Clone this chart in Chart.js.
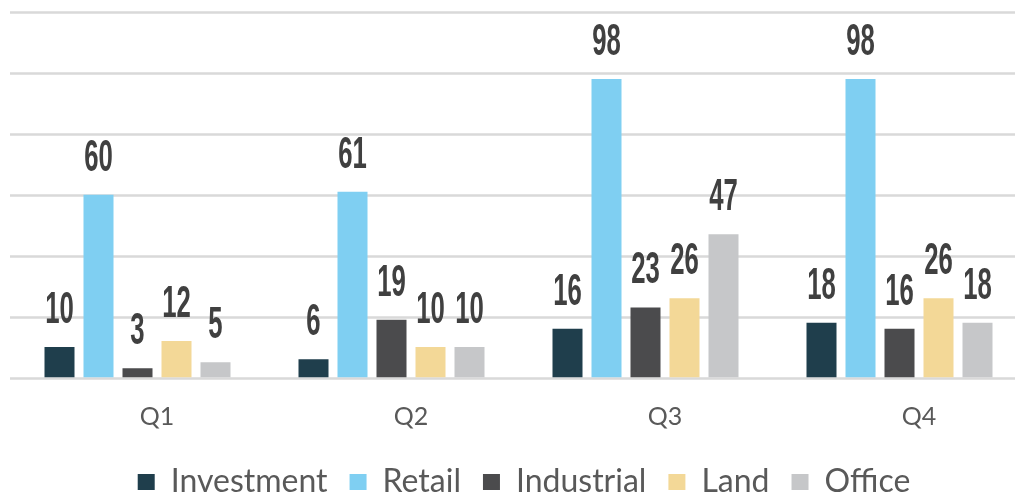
<!DOCTYPE html>
<html>
<head>
<meta charset="utf-8">
<script src="https://cdn.jsdelivr.net/npm/chart.js@4"></script>
<style>
  html, body { margin: 0; padding: 0; background: #fff; overflow: hidden; }
  #wrap { width: 1060px; height: 498px; }
</style>
</head>
<body>
<div id="wrap"><canvas id="chart"></canvas></div>
<script>
// Quarterly volumes by sector
const quarters   = ["Q1", "Q2", "Q3", "Q4"];
const investment = [10, 6, 16, 18];
const retail     = [60, 61, 98, 98];
const industrial = [3, 19, 23, 16];
const land       = [12, 10, 26, 26];
const office     = [5, 10, 47, 18];
const yTicks     = [0, 20, 40, 60, 80, 100, 120];

const AXIS_BOTTOM = 377.5;
const LEGEND_TEXT_Y = 482;
const LEGEND_PAD = 22;
const LEGEND_NUDGE_X = -14;

// horizontal gridlines, running further left than the plot like the original
const gridPlugin = {
  id: "grid",
  beforeDatasetsDraw(chart) {
    const { ctx } = chart;
    const y = chart.scales.y;
    ctx.save();
    ctx.strokeStyle = "#d9d9d9";
    ctx.lineWidth = 2.5;
    yTicks.forEach(v => {
      const py = Math.round(y.getPixelForValue(v)) + 0.5;
      ctx.beginPath();
      ctx.moveTo(10, py);
      ctx.lineTo(chart.width, py);
      ctx.stroke();
    });
    ctx.restore();
  }
};

// condensed bold value labels above each bar
const labelPlugin = {
  id: "values",
  afterDatasetsDraw(chart) {
    const { ctx } = chart;
    ctx.save();
    ctx.font = "bold 44px 'Liberation Sans Narrow', 'Liberation Sans', sans-serif";
    const sx = 14.3 / ctx.measureText("0").width;
    ctx.fillStyle = "#404040";
    ctx.textAlign = "center";
    ctx.textBaseline = "alphabetic";
    chart.data.datasets.forEach((ds, i) => {
      if (!ds.label) return;
      chart.getDatasetMeta(i).data.forEach((bar, j) => {
        ctx.save();
        ctx.translate(bar.x, bar.y - 24);
        ctx.scale(sx, 1);
        ctx.fillText(String(ds.data[j]), 0, 0);
        ctx.restore();
      });
    });
    ctx.restore();
  }
};

// legend padding also pushes the row down, so put it back where it belongs
const legendShift = {
  id: "legendShift",
  afterLayout(chart) {
    const lg = chart.legend;
    lg.top = LEGEND_TEXT_Y - LEGEND_PAD - 16;
    lg.bottom = chart.height;
    lg.height = lg.bottom - lg.top;
    lg.left += LEGEND_NUDGE_X;
    lg.right += LEGEND_NUDGE_X;
  }
};

const mk = (label, data, color) => ({ label, data, backgroundColor: color, borderWidth: 0 });

new Chart(document.getElementById("chart"), {
  type: "bar",
  data: {
    labels: quarters,
    datasets: [
      mk("Investment", investment, "#1f3e4c"),
      mk("Retail", retail, "#7fcff2"),
      mk("Industrial", industrial, "#4b4b4d"),
      mk("Land", land, "#f3d897"),
      mk("Office", office, "#c6c7c9"),
      mk("", quarters.map(() => null), "transparent") // empty slot, as in the source sheet
    ]
  },
  options: {
    responsive: true,
    maintainAspectRatio: false,
    animation: false,
    layout: { padding: { left: 30, right: 14, top: 12, bottom: 0 } },
    datasets: { bar: { categoryPercentage: 234 / 254, barPercentage: 30 / 39 } },
    plugins: {
      tooltip: { enabled: false },
      legend: {
        position: "bottom",
        maxHeight: 40,
        labels: {
          color: "#595959",
          font: { family: "Lato", size: 32 },
          boxWidth: 17,
          boxHeight: 16,
          padding: LEGEND_PAD,
          filter: item => item.text !== ""
        }
      }
    },
    scales: {
      x: {
        grid: { display: false, drawTicks: false },
        border: { display: false },
        ticks: { color: "#595959", font: { family: "Lato", size: 25 }, padding: 24 },
        afterFit: s => { s.height = s.chart.height - s.chart.legend.height - AXIS_BOTTOM; }
      },
      y: {
        display: false,
        min: 0,
        max: 120,
        ticks: { stepSize: 20 }
      }
    }
  },
  plugins: [gridPlugin, labelPlugin, legendShift]
});
</script>
</body>
</html>
